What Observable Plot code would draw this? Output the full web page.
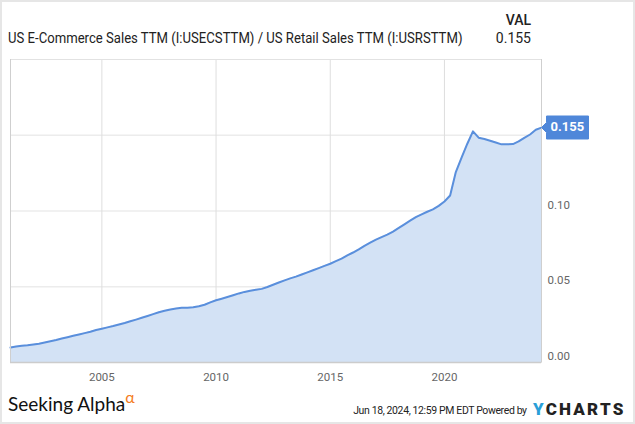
<!DOCTYPE html>
<html>
<head>
<meta charset="utf-8">
<script src="https://cdn.jsdelivr.net/npm/d3@7"></script>
<script src="https://cdn.jsdelivr.net/npm/@observablehq/plot@0.6"></script>
<style>
  html, body { margin: 0; padding: 0; background: #fff; }
  #wrap { position: relative; width: 635px; height: 424px; overflow: hidden; font-family: Roboto, sans-serif; }
  #border { position: absolute; left: 0; top: 0; width: 635px; height: 424px; box-sizing: border-box; border: 2px solid #e6e6e6; pointer-events: none; }
  #chart { position: absolute; left: 0; top: 0; }
  .t { position: absolute; white-space: nowrap; color: #222; }
  g[aria-label="tip"] text { fill: #fff !important; font-weight: 700; }
  g[aria-label="tip"] path { filter: none !important; }
</style>
</head>
<body>
<div id="wrap">
  <div id="chart"></div>
  <div class="t" id="title" style="left:8px; top:30px; font-size:14px; transform-origin:left top; transform:scaleX(0.937);">US E-Commerce Sales TTM (I:USECSTTM) / US Retail Sales TTM (I:USRSTTM)</div>
  <div class="t" id="valh" style="right:104px; top:12px; font-size:14px; font-weight:500; text-align:right;">VAL</div>
  <div class="t" id="valv" style="right:104px; top:30px; font-size:14px; text-align:right;"></div>
  <div class="t" style="left:8px; top:392px; font-family:Lato, sans-serif; font-size:19px; color:#111;">Seeking Alpha<span style="color:#f47b20; font-size:16px; position:relative; top:-8px; margin-left:0px;">α</span></div>
  <div class="t" style="right:108px; top:403px; font-size:11.5px; letter-spacing:-0.4px; color:#222; text-align:right; transform-origin:right top; transform:scaleX(0.91);">Jun 18, 2024, 12:59 PM EDT Powered by</div>
  <div class="t" style="left:533px; top:399px; font-size:17px; font-weight:900; letter-spacing:2.2px; color:#222;"><span style="color:#2a9fd8;">Y</span>CHARTS</div>
  <div id="border"></div>
</div>
<script>
const dates = [
  "2001-01","2001-04","2001-07","2001-10","2002-01","2002-04","2002-07","2002-10",
  "2003-01","2003-04","2003-07","2003-10","2004-01","2004-04","2004-07","2004-10",
  "2005-01","2005-04","2005-07","2005-10","2006-01","2006-04","2006-07","2006-10",
  "2007-01","2007-04","2007-07","2007-10","2008-01","2008-04","2008-07","2008-10",
  "2009-01","2009-04","2009-07","2009-10","2010-01","2010-04","2010-07","2010-10",
  "2011-01","2011-04","2011-07","2011-10","2012-01","2012-04","2012-07","2012-10",
  "2013-01","2013-04","2013-07","2013-10","2014-01","2014-04","2014-07","2014-10",
  "2015-01","2015-04","2015-07","2015-10","2016-01","2016-04","2016-07","2016-10",
  "2017-01","2017-04","2017-07","2017-10","2018-01","2018-04","2018-07","2018-10",
  "2019-01","2019-04","2019-07","2019-10","2020-01","2020-04","2020-07","2020-10",
  "2021-01","2021-04","2021-07","2021-10","2022-01","2022-04","2022-07","2022-10",
  "2023-01","2023-04","2023-07","2023-10","2024-01","2024-04"
];
const ratio = [
  0.0099,0.0105,0.0110,0.0114,0.0119,0.0124,0.0132,0.0140,
  0.0148,0.0158,0.0167,0.0176,0.0185,0.0194,0.0203,0.0214,
  0.0223,0.0232,0.0241,0.0251,0.0261,0.0272,0.0283,0.0295,
  0.0307,0.0319,0.0332,0.0342,0.0350,0.0356,0.0361,0.0362,
  0.0364,0.0371,0.0381,0.0397,0.0411,0.0421,0.0432,0.0444,
  0.0456,0.0466,0.0474,0.0480,0.0486,0.0498,0.0513,0.0528,
  0.0542,0.0555,0.0567,0.0581,0.0595,0.0609,0.0623,0.0638,
  0.0652,0.0669,0.0686,0.0707,0.0726,0.0747,0.0770,0.0791,
  0.0811,0.0828,0.0844,0.0864,0.0888,0.0912,0.0936,0.0960,
  0.0978,0.0995,0.1011,0.1034,0.1063,0.1102,0.1257,0.1353,
  0.1444,0.1526,0.1484,0.1475,0.1464,0.1452,0.1440,0.1440,
  0.1442,0.1459,0.1483,0.1505,0.1536,0.1550
];
const xTickYears = [2005, 2010, 2015, 2020];
const yGridTicks = [0.05, 0.10, 0.15];
const yLabelTicks = [0, 0.05, 0.10];
const yDomain = [0, 0.2];
const xDomain = ["2001-01-01", "2024-04-01"];

const toDate = s => new Date(s + "T00:00:00Z");
const data = dates.map((d, i) => ({date: toDate(d + "-01"), value: ratio[i]}));
const last = data[data.length - 1];
const fmt = d3.format(".3f");
document.getElementById("valv").textContent = fmt(last.value);

const xTicks = xTickYears.map(y => new Date(Date.UTC(y, 0, 1)));

const chart = Plot.plot({
  width: 635,
  height: 424,
  marginLeft: 10,
  marginRight: 94,
  marginTop: 59,
  marginBottom: 62,
  style: {fontFamily: "Roboto, sans-serif", fontSize: "11.5px", color: "#666", background: "transparent", overflow: "visible"},
  x: {type: "utc", domain: xDomain.map(toDate), label: null},
  y: {domain: yDomain, label: null},
  marks: [
    Plot.gridY(yGridTicks, {stroke: "#ececec", strokeOpacity: 1, strokeWidth: 1.5}),
    Plot.gridX(xTicks, {stroke: "#dedede", strokeOpacity: 1}),
    Plot.areaY(data, {x: "date", y: "value", fill: "#d3e2f5"}),
    Plot.lineY(data, {x: "date", y: "value", stroke: "#5a8fdc", strokeWidth: 2}),
    Plot.frame({stroke: "#e2e2e2"}),
    Plot.ruleX([toDate(xDomain[0])], {stroke: "#cfcfcf"}),
    Plot.ruleX([toDate(xDomain[1])], {stroke: "#cfcfcf"}),
    Plot.ruleY([0], {stroke: "#cccccc", strokeWidth: 1.5}),
    Plot.axisX({ticks: xTicks, tickSize: 0, tickPadding: 10, tickFormat: d3.utcFormat("%Y"), fill: "#666", label: null}),
    Plot.axisY({anchor: "right", ticks: yLabelTicks, tickSize: 0, tickPadding: 6, dy: -6, tickFormat: d3.format(".2f"), fill: "#666", label: null}),
    Plot.tip([last], {x: "date", y: "value", title: d => fmt(d.value), anchor: "left", fill: "#4f87d9", stroke: "#4f87d9", pointerSize: 10, textPadding: 4, fontSize: 13})
  ]
});
document.getElementById("chart").appendChild(chart);
</script>
</body>
</html>
